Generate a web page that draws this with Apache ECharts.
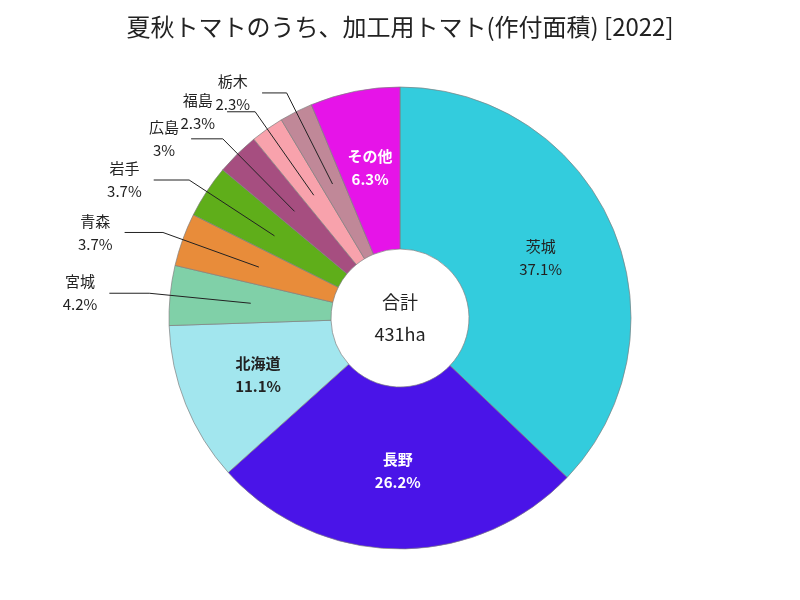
<!DOCTYPE html>
<html>
<head>
<meta charset="utf-8">
<script src="https://cdn.jsdelivr.net/npm/echarts@6/dist/echarts.min.js"></script>
<style>html,body{margin:0;padding:0;background:#fff}#c{width:800px;height:600px}</style>
</head>
<body>
<div id="c"></div>
<script>
var titleText = '夏秋トマトのうち、加工用トマト(作付面積) [2022]';
var categories = ['茨城', '長野', '北海道', '宮城', '青森', '岩手', '広島', '福島', '栃木', 'その他'];
var values = [160, 113, 48, 18, 16, 16, 13, 10, 10, 27];
var unit = 'ha';
var totalLabel = '合計';
var colors = ['#33CCDD', '#4A14E8', '#A2E6EE', '#80D0A8', '#E88C3A', '#5FAE1A', '#A64E80', '#F8A2AC', '#C08898', '#E614E8'];
var insideSet = {'茨城': '#222', '長野': '#fff', '北海道': '#222', 'その他': '#fff'};

var FONT = '"Noto Sans CJK JP", "Noto Sans", sans-serif';
var total = values.reduce(function (a, b) { return a + b; }, 0);
var CX = 400, CY = 318, R0 = 69, R1 = 231;

function midAngle(i) {
  var before = 0;
  for (var k = 0; k < i; k++) before += values[k];
  var frac = (before + values[i] / 2) / total;
  return frac * Math.PI * 2; // clockwise from top
}
function pt(a, r) { return [CX + r * Math.sin(a), CY - r * Math.cos(a)]; }
function leader(i) {
  var a = midAngle(i);
  var end = pt(a, 150);
  var kink = pt(a, 252);
  var len = 12 + 28 * Math.abs(Math.sin(a));
  return [end, kink, [kink[0] - len, kink[1]]];
}

var data = categories.map(function (name, i) {
  var inside = insideSet.hasOwnProperty(name);
  var item = { name: name, value: values[i], itemStyle: { color: colors[i] } };
  if (inside) {
    item.label = { position: 'inside', color: insideSet[name], fontWeight: (insideSet[name] === '#fff' || name === '北海道') ? 'bold' : 'normal' };
  } else {
    item.label = { position: 'outside', color: '#222' };
  }
  item.labelLine = { show: false };
  return item;
});

var lines = [];
categories.forEach(function (name, i) {
  if (insideSet.hasOwnProperty(name)) return;
  lines.push({
    type: 'polyline', silent: true, z: 100,
    shape: { points: leader(i) },
    style: { stroke: '#222', lineWidth: 1, fill: null }
  });
});

var chart = echarts.init(document.getElementById('c'));
chart.setOption({
  backgroundColor: '#fff',
  animation: false,
  title: {
    text: titleText, left: 'center', top: 10,
    textStyle: { fontFamily: FONT, fontSize: 24, fontWeight: 'normal', color: '#222' }
  },
  graphic: [{
    type: 'text', z: 100,
    style: {
      text: totalLabel + '\n' + total + unit, x: CX, y: CY,
      textAlign: 'center', textVerticalAlign: 'middle',
      font: '18px ' + FONT, lineHeight: 32, fill: '#222'
    }
  }].concat(lines),
  series: [{
    type: 'pie',
    center: [CX, CY],
    radius: [R0, R1],
    startAngle: 90,
    clockwise: true,
    avoidLabelOverlap: false,
    data: data,
    itemStyle: { borderColor: '#808080', borderWidth: 0.7 },
    label: {
      fontFamily: FONT, fontSize: 15, lineHeight: 23,
      formatter: function (p) {
        var pct = Math.round(p.value / total * 1000) / 10;
        return p.name + '\n' + pct + '%';
      }
    },
    labelLayout: function (p) {
      var name = categories[p.dataIndex];
      if (insideSet.hasOwnProperty(name)) return {};
      var start = leader(p.dataIndex)[2];
      return {
        x: start[0] - 12 - p.labelRect.width / 2,
        y: start[1],
        align: 'center',
        verticalAlign: 'middle'
      };
    }
  }]
});
</script>
</body>
</html>
